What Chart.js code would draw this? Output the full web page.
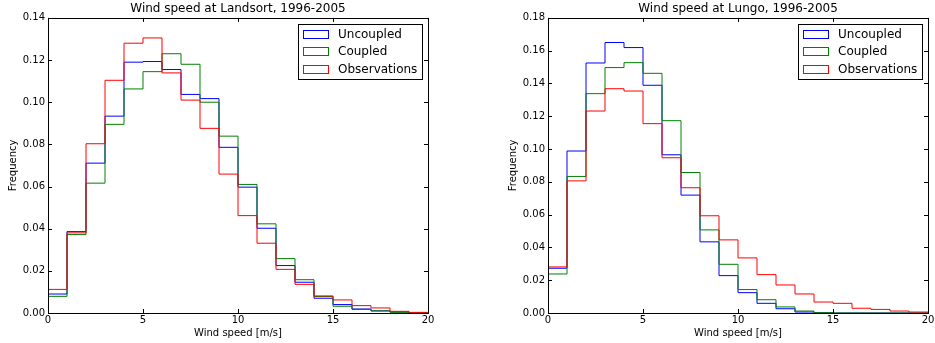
<!DOCTYPE html>
<html>
<head>
<meta charset="utf-8">
<script src="https://cdn.jsdelivr.net/npm/chart.js@4.4.0/dist/chart.umd.min.js"></script>
<style>
  html, body { margin: 0; padding: 0; background: #fff; overflow: hidden; width: 935px; height: 343px; }
  .panel { position: absolute; top: 0; width: 470px; height: 343px; }
</style>
</head>
<body>
<div class="panel" style="left:0"><canvas id="landsort" width="470" height="343"></canvas></div>
<div class="panel" style="left:500px"><canvas id="lungo" width="470" height="343"></canvas></div>
<script>
// bin edges (wind speed, m/s)
const binEdges = [0, 1, 2, 3, 4, 5, 6, 7, 8, 9, 10, 11, 12, 13, 14, 15, 16, 17, 18, 19, 20];
const seriesNames = ['Uncoupled', 'Coupled', 'Observations'];
const seriesColors = ['#0000ff', '#008000', '#ff0000'];

// Landsort frequencies per 1 m/s bin
const landsortUncoupled = [0.0090, 0.0386, 0.0711, 0.0934, 0.1190, 0.1193, 0.1155, 0.1037, 0.1017, 0.0786,
                           0.0597, 0.0402, 0.0225, 0.0146, 0.0070, 0.0040, 0.0019, 0.0010, 0.0005, 0.0002];
const landsortCoupled   = [0.0079, 0.0372, 0.0616, 0.0895, 0.1063, 0.1145, 0.1230, 0.1180, 0.1000, 0.0839,
                           0.0610, 0.0423, 0.0258, 0.0158, 0.0078, 0.0032, 0.0017, 0.0010, 0.0003, 0.0001];
const landsortObs       = [0.0112, 0.0380, 0.0803, 0.1104, 0.1280, 0.1305, 0.1139, 0.1010, 0.0876, 0.0659,
                           0.0462, 0.0331, 0.0207, 0.0136, 0.0081, 0.0062, 0.0035, 0.0024, 0.0008, 0.0003];

// Lungo frequencies per 1 m/s bin
const lungoUncoupled = [0.0273, 0.0988, 0.1525, 0.1650, 0.1619, 0.1389, 0.0965, 0.0719, 0.0434, 0.0228,
                        0.0124, 0.0059, 0.0026, 0.0006, 0.0002, 0, 0, 0, 0, 0];
const lungoCoupled   = [0.0238, 0.0833, 0.1338, 0.1497, 0.1527, 0.1462, 0.1173, 0.0857, 0.0507, 0.0297,
                        0.0143, 0.0081, 0.0037, 0.0012, 0.0002, 0, 0, 0, 0, 0];
const lungoObs       = [0.0281, 0.0806, 0.1232, 0.1368, 0.1354, 0.1155, 0.0947, 0.0764, 0.0593, 0.0446,
                        0.0336, 0.0234, 0.0171, 0.0116, 0.0067, 0.0059, 0.0029, 0.0022, 0.0012, 0.0006];

const xTicks = [0, 5, 10, 15, 20];

Chart.defaults.font.family = '"DejaVu Sans", sans-serif';
Chart.defaults.color = '#000';

// outline of a step histogram from bin edges and values
function stepPoints(vals) {
    let pts = [{ x: binEdges[0], y: 0 }];
    vals.forEach((v, i) => pts.push({ x: binEdges[i], y: v }));
    pts.push({ x: binEdges[vals.length], y: vals[vals.length - 1] });
    pts.push({ x: binEdges[vals.length], y: 0 });
    return pts;
}

// box around the plot and inward ticks on all four sides
const framePlugin = {
    id: 'frame',
    afterDraw(chart) {
        const ctx = chart.ctx;
        const { left, right, top, bottom } = chart.chartArea;
        const xs = chart.scales.x, ys = chart.scales.y;
        ctx.save();
        ctx.strokeStyle = '#000';
        ctx.lineWidth = 1;
        ctx.beginPath();
        xs.ticks.forEach(t => {
            const px = Math.round(xs.getPixelForValue(t.value)) + 0.5;
            ctx.moveTo(px, bottom); ctx.lineTo(px, bottom - 4);
            ctx.moveTo(px, top); ctx.lineTo(px, top + 4);
        });
        ys.ticks.forEach(t => {
            const py = Math.round(ys.getPixelForValue(t.value)) + 0.5;
            ctx.moveTo(left, py); ctx.lineTo(left + 4, py);
            ctx.moveTo(right, py); ctx.lineTo(right - 4, py);
        });
        ctx.stroke();
        ctx.strokeRect(Math.round(left) + 0.5, Math.round(top) + 0.5, Math.round(right - left), Math.round(bottom - top));
        ctx.restore();
    }
};

// matplotlib-like legend in the upper right corner
const boxLegendPlugin = {
    id: 'boxLegend',
    afterDraw(chart) {
        const ctx = chart.ctx;
        const ca = chart.chartArea;
        const sets = chart.data.datasets;
        ctx.save();
        ctx.font = '12px "DejaVu Sans"';
        let tw = 0;
        sets.forEach(d => { tw = Math.max(tw, ctx.measureText(d.label).width); });
        const w = Math.round(5 + 25 + 10 + tw + 5);
        const right = Math.round(ca.right) - 6;
        const left = right - w;
        const top = Math.round(ca.top) + 6;
        const h = 55;
        ctx.fillStyle = '#fff';
        ctx.fillRect(left, top, w, h);
        ctx.lineWidth = 1;
        ctx.strokeStyle = '#000';
        ctx.strokeRect(left + 0.5, top + 0.5, w, h);
        sets.forEach((d, i) => {
            const y = Math.round(top + 10 + i * 17.4);
            ctx.strokeStyle = d.borderColor;
            ctx.strokeRect(left + 5.5, y - 4 + 0.5, 25, 8);
            ctx.fillStyle = '#000';
            ctx.textBaseline = 'middle';
            ctx.fillText(d.label, left + 40, y + 1);
        });
        ctx.restore();
    }
};

function makeChart(id, title, seriesList, yMax) {
    new Chart(document.getElementById(id), {
        type: 'line',
        data: {
            datasets: seriesList.map((vals, i) => ({
                label: seriesNames[i],
                data: stepPoints(vals),
                borderColor: seriesColors[i],
                borderWidth: 1,
                pointRadius: 0,
                fill: false,
                stepped: 'before',
                order: seriesList.length - 1 - i
            }))
        },
        options: {
            responsive: false,
            animation: false,
            devicePixelRatio: 1,
            layout: { padding: { left: 0, right: 42, top: 0, bottom: 0 } },
            plugins: {
                legend: { display: false },
                tooltip: { enabled: false },
                title: {
                    display: true,
                    text: title,
                    fullSize: false,
                    font: { size: 12, weight: 'normal' },
                    color: '#000',
                    padding: { top: 2, bottom: 1.5 }
                }
            },
            scales: {
                x: {
                    type: 'linear',
                    min: 0, max: 20,
                    afterBuildTicks: s => { s.ticks = xTicks.map(v => ({ value: v })); },
                    afterFit: s => { s.height = 30; },
                    grid: { display: false, drawTicks: false },
                    border: { display: false },
                    ticks: { font: { size: 10 }, padding: 1, maxRotation: 0, autoSkip: false, color: '#000' },
                    title: { display: true, text: 'Wind speed [m/s]', font: { size: 10 }, padding: { top: 0, bottom: 4 }, color: '#000' }
                },
                y: {
                    min: 0, max: yMax,
                    afterFit: s => { s.width = 48; },
                    grid: { display: false, drawTicks: false },
                    border: { display: false },
                    ticks: { stepSize: 0.02, font: { size: 10 }, padding: 3, autoSkip: false, color: '#000',
                             callback: v => v.toFixed(2) },
                    title: { display: true, text: 'Frequency', font: { size: 10 }, padding: { top: 7, bottom: 0 }, color: '#000' }
                }
            }
        },
        plugins: [framePlugin, boxLegendPlugin]
    });
}

makeChart('landsort', 'Wind speed at Landsort, 1996-2005', [landsortUncoupled, landsortCoupled, landsortObs], 0.14);
makeChart('lungo', 'Wind speed at Lungo, 1996-2005', [lungoUncoupled, lungoCoupled, lungoObs], 0.18);
</script>
</body>
</html>
